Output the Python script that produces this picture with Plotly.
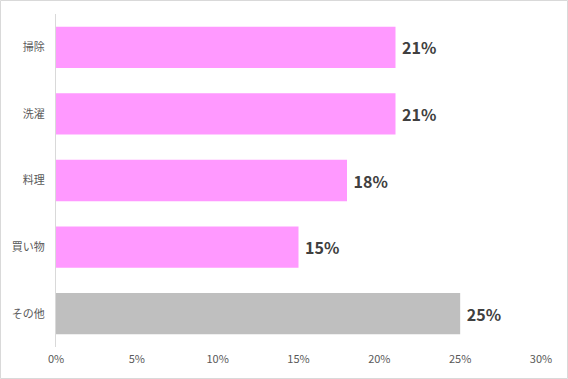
import plotly.graph_objects as go

categories = ["掃除", "洗濯", "料理", "買い物", "その他"]
values = [21, 21, 18, 15, 25]
labels = ["21%", "21%", "18%", "15%", "25%"]
colors = ["#FF99FF", "#FF99FF", "#FF99FF", "#FF99FF", "#BFBFBF"]
tick_vals = [0, 5, 10, 15, 20, 25, 30]
tick_text = ["0%", "5%", "10%", "15%", "20%", "25%", "30%"]

W, H = 568, 379
ml, mr, mt, mb = 56, 27, 14, 32
pw, ph = W - ml - mr, H - mt - mb

fig = go.Figure(go.Bar(
    x=values, y=categories, orientation="h",
    marker=dict(color=colors, line=dict(width=0)),
    text=labels, textposition="outside", cliponaxis=False,
    textfont=dict(size=16, color="#404040", family="Noto Sans CJK JP"),
    texttemplate=" <b>%{text}</b>",
))

fig.update_layout(
    width=W, height=H,
    margin=dict(l=ml, r=mr, t=mt, b=mb, autoexpand=False),
    paper_bgcolor="white", plot_bgcolor="white",
    bargap=0.38,
    showlegend=False,
    font=dict(family="Noto Sans CJK JP", size=11, color="#595959"),
    xaxis=dict(range=[0, 30], tickvals=tick_vals, ticktext=tick_text,
               showgrid=False, zeroline=False, showline=False, ticks="",
               automargin=False, ticklabelstandoff=4,
               tickfont=dict(size=11, color="#595959")),
    yaxis=dict(autorange="reversed", showgrid=False, zeroline=False,
               showline=True, linecolor="#D9D9D9", linewidth=1, ticks="",
               automargin=False, ticklabelstandoff=8,
               tickfont=dict(size=11, color="#595959")),
    shapes=[dict(type="rect", xref="paper", yref="paper",
                 x0=-(ml - 0.5) / pw, x1=1 + (mr - 0.5) / pw,
                 y0=-(mb - 0.5) / ph, y1=1 + (mt - 0.5) / ph,
                 line=dict(color="#D9D9D9", width=1), layer="below")],
)

fig.write_html("out.html", config={"displayModeBar": False},
               post_script="document.body.style.margin='0';document.body.style.overflow='hidden';")
